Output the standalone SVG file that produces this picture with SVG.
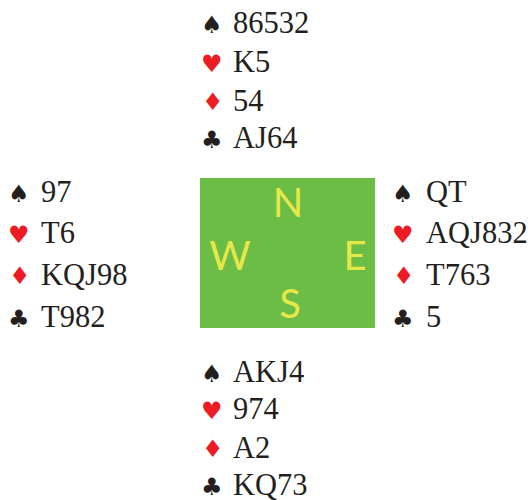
<svg xmlns="http://www.w3.org/2000/svg" width="532" height="500" viewBox="0 0 532 500">
<style>
.c{font-family:"Liberation Serif","Times New Roman",serif;font-size:30.5px;fill:#231f20}
.s{font-family:"DejaVu Sans",sans-serif;font-size:24px}
.b{fill:#231f20}
.r{fill:#ed1c24}
.d{font-family:Lato,"Open Sans",sans-serif;font-size:40px;fill:#e6e84a;text-anchor:middle}
</style>
<rect width="532" height="500" fill="#ffffff"/>
<g id="north">
<text class="s b" x="201" y="33">♠</text><text class="c" x="233" y="33">86532</text>
<text class="s r" x="201" y="72">♥</text><text class="c" x="233" y="72">K5</text>
<text class="s r" x="202" y="110">♦</text><text class="c" x="233" y="111">54</text>
<text class="s b" x="201" y="148">♣</text><text class="c" x="233" y="148">AJ64</text>
</g>
<g id="west">
<text class="s b" x="8" y="202">♠</text><text class="c" x="41" y="202">97</text>
<text class="s r" x="8" y="243">♥</text><text class="c" x="41" y="243">T6</text>
<text class="s r" x="9" y="284">♦</text><text class="c" x="41" y="285">KQJ98</text>
<text class="s b" x="8" y="327">♣</text><text class="c" x="41" y="327">T982</text>
</g>
<g id="east">
<text class="s b" x="392" y="202">♠</text><text class="c" x="426" y="202">QT</text>
<text class="s r" x="392" y="243">♥</text><text class="c" x="426" y="243">AQJ832</text>
<text class="s r" x="393" y="284">♦</text><text class="c" x="426" y="285">T763</text>
<text class="s b" x="392" y="327">♣</text><text class="c" x="426" y="327">5</text>
</g>
<g id="south">
<text class="s b" x="201" y="382">♠</text><text class="c" x="233" y="382">AKJ4</text>
<text class="s r" x="201" y="419">♥</text><text class="c" x="233" y="419">974</text>
<text class="s r" x="202" y="457">♦</text><text class="c" x="233" y="458">A2</text>
<text class="s b" x="201" y="495">♣</text><text class="c" x="233" y="495">KQ73</text>
</g>
<g id="table">
<rect x="200" y="178" width="175" height="150" fill="#6cbd45"/>
<text class="d" x="288" y="217">N</text>
<text class="d" x="230" y="270">W</text>
<text class="d" x="355" y="270">E</text>
<text class="d" x="290" y="318">S</text>
</g>
</svg>
